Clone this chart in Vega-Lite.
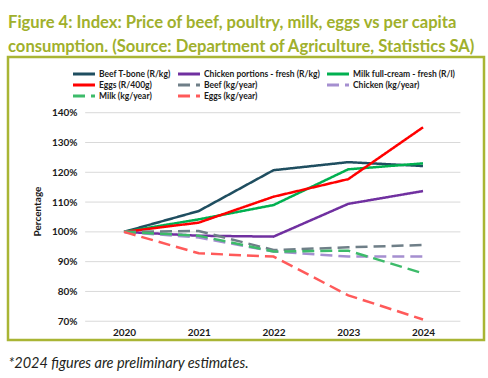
{
  "$schema": "https://vega.github.io/schema/vega-lite/v6.json",
  "autosize": {"type": "none"},
  "width": 476,
  "height": 283,
  "padding": {"left": 8, "top": 57, "right": 4, "bottom": 38},
  "background": "white",
  "config": {
    "view": {"stroke": "#a9b534", "strokeWidth": 2.5},
    "font": "Lato"
  },
  "title": {
    "text": ["Figure 4: Index: Price of beef, poultry, milk, eggs vs per capita", "consumption. (Source: Department of Agriculture, Statistics SA)"],
    "anchor": "start",
    "frame": "group",
    "font": "Lato",
    "fontSize": 16.6,
    "fontWeight": "bold",
    "color": "#a0b02c",
    "lineHeight": 24,
    "offset": 1
  },
  "datasets": {
    "lines": [
      {"series": "Beef T-bone (R/kg)", "year": 2020, "value": 100},
      {"series": "Beef T-bone (R/kg)", "year": 2021, "value": 107},
      {"series": "Beef T-bone (R/kg)", "year": 2022, "value": 120.7},
      {"series": "Beef T-bone (R/kg)", "year": 2023, "value": 123.4},
      {"series": "Beef T-bone (R/kg)", "year": 2024, "value": 122.1},
      {"series": "Chicken portions - fresh (R/kg)", "year": 2020, "value": 100},
      {"series": "Chicken portions - fresh (R/kg)", "year": 2021, "value": 98.7},
      {"series": "Chicken portions - fresh (R/kg)", "year": 2022, "value": 98.4},
      {"series": "Chicken portions - fresh (R/kg)", "year": 2023, "value": 109.4},
      {"series": "Chicken portions - fresh (R/kg)", "year": 2024, "value": 113.7},
      {"series": "Milk full-cream - fresh (R/l)", "year": 2020, "value": 100},
      {"series": "Milk full-cream - fresh (R/l)", "year": 2021, "value": 104.2},
      {"series": "Milk full-cream - fresh (R/l)", "year": 2022, "value": 109},
      {"series": "Milk full-cream - fresh (R/l)", "year": 2023, "value": 121},
      {"series": "Milk full-cream - fresh (R/l)", "year": 2024, "value": 123},
      {"series": "Eggs (R/400g)", "year": 2020, "value": 100},
      {"series": "Eggs (R/400g)", "year": 2021, "value": 103.1},
      {"series": "Eggs (R/400g)", "year": 2022, "value": 111.8},
      {"series": "Eggs (R/400g)", "year": 2023, "value": 117.7},
      {"series": "Eggs (R/400g)", "year": 2024, "value": 135.1},
      {"series": "Beef (kg/year)", "year": 2020, "value": 100},
      {"series": "Beef (kg/year)", "year": 2021, "value": 100.3},
      {"series": "Beef (kg/year)", "year": 2022, "value": 93.9},
      {"series": "Beef (kg/year)", "year": 2023, "value": 94.8},
      {"series": "Beef (kg/year)", "year": 2024, "value": 95.6},
      {"series": "Chicken (kg/year)", "year": 2020, "value": 100},
      {"series": "Chicken (kg/year)", "year": 2021, "value": 98.1},
      {"series": "Chicken (kg/year)", "year": 2022, "value": 93.4},
      {"series": "Chicken (kg/year)", "year": 2023, "value": 91.7},
      {"series": "Chicken (kg/year)", "year": 2024, "value": 91.7},
      {"series": "Milk (kg/year)", "year": 2020, "value": 100},
      {"series": "Milk (kg/year)", "year": 2021, "value": 98.7},
      {"series": "Milk (kg/year)", "year": 2022, "value": 93.4},
      {"series": "Milk (kg/year)", "year": 2023, "value": 93.7},
      {"series": "Milk (kg/year)", "year": 2024, "value": 86.1},
      {"series": "Eggs (kg/year)", "year": 2020, "value": 100},
      {"series": "Eggs (kg/year)", "year": 2021, "value": 92.8},
      {"series": "Eggs (kg/year)", "year": 2022, "value": 91.7},
      {"series": "Eggs (kg/year)", "year": 2023, "value": 78.7},
      {"series": "Eggs (kg/year)", "year": 2024, "value": 70.6}
    ],
    "grid": [
      {"start": 2019.48, "end": 2024.5, "level": 70},
      {"start": 2019.48, "end": 2024.5, "level": 80},
      {"start": 2019.48, "end": 2024.5, "level": 90},
      {"start": 2019.48, "end": 2024.5, "level": 100},
      {"start": 2019.48, "end": 2024.5, "level": 110},
      {"start": 2019.48, "end": 2024.5, "level": 120},
      {"start": 2019.48, "end": 2024.5, "level": 130},
      {"start": 2019.48, "end": 2024.5, "level": 140}
    ]
  },
  "layer": [
    {
      "data": {"name": "grid"},
      "mark": {"type": "rule", "color": "#d9d9d9", "strokeWidth": 1},
      "encoding": {
        "x": {"field": "start", "type": "quantitative", "scale": {"domain": [2018.448, 2024.816], "nice": false, "zero": false},
          "axis": {
            "values": [2020, 2021, 2022, 2023, 2024],
            "format": "d",
            "domain": false,
            "ticks": false,
            "grid": false,
            "labelPadding": -5,
            "labelBaseline": "alphabetic",
            "labelFont": "Lato",
            "labelFontSize": 10,
            "labelFontWeight": "bold",
            "labelColor": "#1a1a1a",
            "title": "*2024 figures are preliminary estimates.",
            "titleFont": "Lato",
            "titleFontSize": 14.5,
            "titleFontStyle": "italic",
            "titleFontWeight": "normal",
            "titleColor": "#231f20",
            "titleAnchor": "start",
            "titleAlign": "left",
            "titleBaseline": "alphabetic",
            "titleX": 0,
            "titleY": 27
          }
        },
        "x2": {"field": "end"},
        "y": {"field": "level", "type": "quantitative", "scale": {"domain": [63.7, 158.7], "nice": false, "zero": false},
          "axis": {
            "values": [70, 80, 90, 100, 110, 120, 130, 140],
            "labelExpr": "datum.value + '%'",
            "domain": false,
            "ticks": false,
            "grid": false,
            "labelPadding": -69,
            "labelAlign": "right",
            "labelFont": "Lato",
            "labelFontSize": 10,
            "labelFontWeight": "bold",
            "labelColor": "#1a1a1a",
            "title": "Percentage",
            "titleFont": "Lato",
            "titleFontSize": 10,
            "titleFontWeight": "bold",
            "titleColor": "#1a1a1a",
            "titleAngle": -90,
            "titleBaseline": "middle",
            "titleAlign": "center",
            "titleX": 29,
            "titleY": 154
          }
        }
      }
    },
    {
      "data": {"name": "lines"},
      "mark": {"type": "line", "strokeWidth": 2.5, "strokeCap": "butt"},
      "encoding": {
        "x": {"field": "year", "type": "quantitative"},
        "y": {"field": "value", "type": "quantitative"},
        "color": {
          "field": "series", "type": "nominal",
          "scale": {
            "domain": ["Beef T-bone (R/kg)", "Chicken portions - fresh (R/kg)", "Milk full-cream - fresh (R/l)", "Eggs (R/400g)", "Beef (kg/year)", "Chicken (kg/year)", "Milk (kg/year)", "Eggs (kg/year)"],
            "range": ["#1f4e60", "#7030a0", "#00b050", "#ff0000", "#6f7f88", "#a58fd0", "#3dbb6a", "#ff5a5a"]
          },
          "legend": {
            "title": null,
            "orient": "none",
            "legendX": 71,
            "legendY": 12,
            "direction": "horizontal",
            "columns": 3,
            "columnPadding": 1,
            "rowPadding": -3,
            "symbolType": "M-3.14,0H3.14",
            "symbolSize": 49,
            "symbolStrokeWidth": 3,
            "symbolOffset": 0,
            "labelOffset": 10,
            "labelFont": "Lato",
            "labelFontSize": 8.5,
            "labelFontWeight": "bold",
            "labelColor": "#1a1a1a",
            "labelLimit": 300
          }
        },
        "strokeDash": {
          "field": "series", "type": "nominal",
          "scale": {
            "domain": ["Beef T-bone (R/kg)", "Chicken portions - fresh (R/kg)", "Milk full-cream - fresh (R/l)", "Eggs (R/400g)", "Beef (kg/year)", "Chicken (kg/year)", "Milk (kg/year)", "Eggs (kg/year)"],
            "range": [[1, 0], [1, 0], [1, 0], [1, 0], [12, 6], [12, 6], [12, 6], [12, 6]]
          },
          "legend": null
        }
      }
    }
  ]
}
